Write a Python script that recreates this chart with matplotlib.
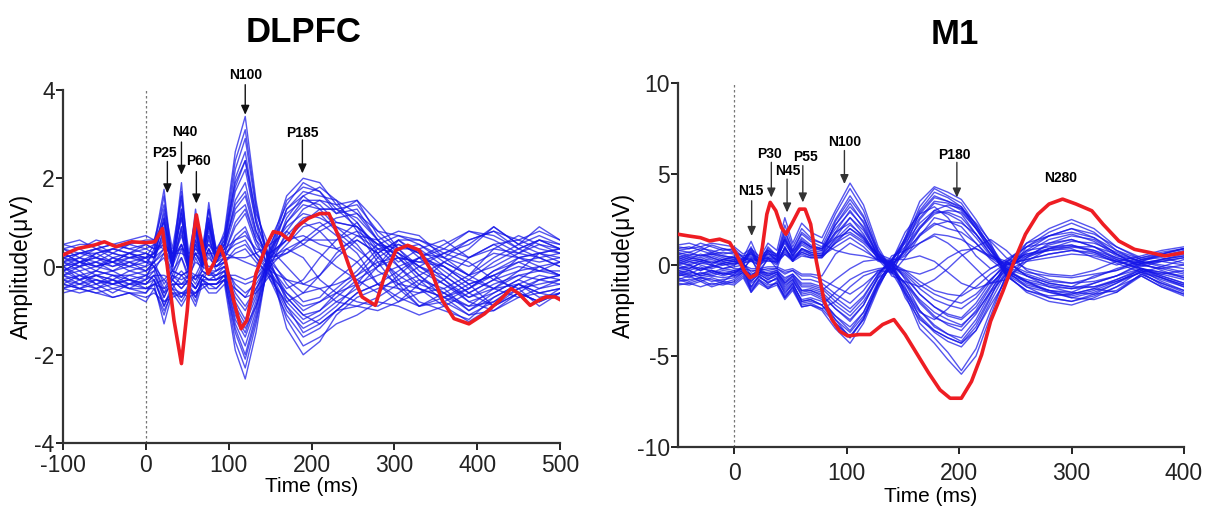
import matplotlib
matplotlib.use("Agg")
import matplotlib.pyplot as plt

plt.rcParams['font.family'] = ['Liberation Sans', 'DejaVu Sans']
plt.rcParams['axes.unicode_minus'] = False

# ---------------- DLPFC data ----------------
dl_time = [-100, -80, -60, -40, -20, 0, 10, 22, 32, 43, 52, 60, 68, 76, 85, 95, 108, 120,
           133, 150, 170, 190, 210, 230, 255, 280, 305, 330, 360, 390, 420, 450, 475, 500]

dl_channels = [
    [0.1, 0.2, 0.0, -0.1, 0.1, 0.2, 0.5, 1.75, 0.1, 1.9, 0.0, 1.3, 0.2, 1.45, 0.3, 0.8, 2.6, 3.4, 1.5, -0.2, -1.0, -1.4, -1.2, -0.9, -0.4, 0.2, 0.5, 0.3, -0.2, -0.6, -0.3, 0.2, 0.3, 0.1],
    [-0.2, 0.0, 0.3, 0.1, -0.1, 0.0, 0.4, 1.6, 0.0, 1.7, -0.1, 1.1, 0.1, 1.3, 0.2, 0.7, 2.4, 3.1, 1.4, -0.1, -0.9, -1.3, -1.1, -0.8, -0.5, 0.0, 0.4, 0.4, 0.0, -0.4, -0.2, 0.1, 0.2, 0.0],
    [0.3, 0.1, 0.2, 0.4, 0.3, 0.1, 0.3, 1.3, 0.2, 1.5, 0.1, 1.0, 0.3, 1.1, 0.3, 0.6, 2.2, 2.9, 1.3, 0.1, -0.7, -1.1, -1.0, -0.6, -0.2, 0.3, 0.6, 0.2, -0.3, -0.7, -0.5, -0.1, 0.3, 0.4],
    [-0.3, -0.4, -0.2, -0.3, -0.5, -0.3, 0.2, 1.1, -0.1, 1.3, -0.2, 0.9, 0.0, 1.0, 0.1, 0.5, 2.0, 2.6, 1.1, 0.0, -0.6, -1.0, -0.8, -0.5, -0.1, 0.4, 0.3, 0.0, -0.4, -0.8, -0.6, -0.3, 0.0, -0.2],
    [0.4, 0.5, 0.5, 0.3, 0.5, 0.6, 0.6, 1.0, 0.3, 1.1, 0.2, 0.8, 0.4, 0.9, 0.4, 0.5, 1.7, 2.2, 1.0, 0.2, -0.4, -0.8, -0.7, -0.3, 0.1, 0.5, 0.7, 0.5, 0.1, -0.2, 0.2, 0.5, 0.7, 0.5],
    [0.0, -0.2, -0.1, 0.2, 0.0, -0.1, 0.1, 0.9, 0.0, 0.9, -0.1, 0.6, 0.2, 0.8, 0.2, 0.4, 1.5, 1.9, 0.8, 0.1, -0.3, -0.6, -0.5, -0.4, -0.2, 0.1, 0.2, 0.1, 0.3, 0.6, 0.8, 0.4, 0.2, 0.3],
    [0.0, -0.3, -0.5, -0.4, -0.3, -0.5, -0.4, -1.3, -0.6, -0.9, -0.6, -0.9, -0.4, -0.6, -0.6, -0.4, -1.9, -2.55, -1.5, 0.4, 1.6, 2.0, 1.9, 1.4, 1.5, 0.7, 0.3, -0.2, -0.6, -1.0, -0.6, -0.3, -0.5, -0.4],
    [-0.4, -0.5, -0.6, -0.7, -0.6, -0.8, -0.5, -1.1, -0.5, -0.8, -0.5, -0.8, -0.3, -0.5, -0.5, -0.3, -1.7, -2.3, -1.3, 0.3, 1.5, 1.8, 1.7, 1.2, 1.3, 0.6, 0.0, -0.5, -0.9, -1.25, -0.9, -0.6, -0.8, -0.6],
    [-0.5, -0.4, -0.3, -0.5, -0.6, -0.6, -0.3, -0.9, -0.4, -0.7, -0.4, -0.7, -0.3, -0.4, -0.4, -0.3, -1.5, -2.1, -1.2, 0.2, 1.3, 1.7, 1.6, 1.5, 1.2, 0.8, 0.4, 0.0, -0.3, -0.8, -1.0, -0.7, -0.6, -0.7],
    [-0.2, -0.1, -0.4, -0.6, -0.4, -0.4, -0.2, -0.7, -0.3, -0.5, -0.3, -0.5, -0.2, -0.3, -0.3, -0.2, -1.3, -1.8, -1.0, 0.5, 1.2, 1.5, 1.4, 1.0, 0.9, 0.2, -0.2, -0.5, -0.7, -1.1, -0.8, -0.5, -0.9, -0.6],
    [0.2, 0.1, -0.1, -0.2, -0.2, -0.1, 0.0, -0.5, -0.2, -0.3, -0.2, -0.4, -0.1, -0.2, -0.2, -0.1, -1.1, -1.5, -0.8, 0.3, 1.0, 1.4, 1.3, 1.3, 1.1, 0.6, 0.2, 0.1, 0.0, -0.4, -0.2, 0.0, -0.1, 0.1],
    [-0.1, 0.1, 0.2, 0.0, 0.1, 0.0, 0.1, -0.4, -0.1, -0.2, -0.1, -0.3, 0.0, -0.1, -0.1, 0.0, -0.8, -1.2, -0.6, 0.4, 0.9, 1.2, 1.1, 0.9, 0.7, 0.4, 0.5, 0.3, 0.2, 0.0, 0.3, 0.2, 0.1, 0.2],
    [0.3, 0.4, 0.2, 0.1, 0.3, 0.4, 0.3, 0.6, 0.1, 0.7, 0.1, 0.5, 0.2, 0.6, 0.2, 0.3, 1.0, 1.3, 0.6, 0.2, 0.3, 0.6, 0.9, 1.1, 1.2, 0.6, 0.2, -0.3, -0.5, -0.2, 0.4, 0.3, 0.6, 0.4],
    [-0.3, -0.2, -0.3, -0.4, -0.2, -0.3, -0.1, 0.3, -0.2, 0.4, -0.1, 0.3, 0.0, 0.4, 0.0, 0.2, 0.7, 0.9, 0.3, 0.0, 0.8, 1.3, 1.5, 1.4, 1.0, 0.3, -0.3, -0.8, -1.0, -1.2, -0.7, -0.4, -0.6, -0.5],
    [0.5, 0.4, 0.6, 0.5, 0.4, 0.5, 0.4, 0.5, 0.3, 0.4, 0.3, 0.4, 0.3, 0.5, 0.3, 0.4, 0.6, 0.7, 0.4, 0.3, 0.6, 1.0, 1.3, 1.3, 1.4, 0.8, 0.7, 0.6, 0.3, 0.5, 0.9, 0.5, 0.9, 0.6],
    [0.1, 0.0, -0.2, -0.1, -0.3, -0.2, 0.0, 0.2, -0.3, 0.2, -0.3, 0.2, -0.1, 0.3, -0.1, 0.1, 0.4, 0.5, 0.2, -0.1, -1.2, -1.8, -1.6, -1.3, -1.1, -0.8, -0.9, -1.1, -0.9, -0.6, -0.3, -0.5, -0.4, -0.3],
    [-0.4, -0.5, -0.4, -0.3, -0.5, -0.6, -0.4, -0.3, -0.5, -0.2, -0.4, -0.2, -0.3, -0.1, -0.3, -0.2, -0.3, -0.4, -0.3, 0.1, 1.1, 1.6, 1.8, 1.5, 0.8, 0.1, -0.5, -0.9, -0.7, -0.4, -0.9, -0.6, -0.3, -0.4],
    [0.2, 0.3, 0.4, 0.5, 0.4, 0.3, 0.2, 0.4, 0.1, 0.5, 0.0, 0.3, 0.1, 0.4, 0.1, 0.2, 0.2, 0.1, 0.0, 0.6, 1.4, 1.9, 1.7, 1.3, 0.9, 0.5, 0.4, 0.5, 0.2, -0.2, 0.0, 0.3, 0.5, 0.4],
    [-0.5, -0.6, -0.5, -0.7, -0.6, -0.7, -0.6, -0.8, -0.7, -0.6, -0.7, -0.6, -0.5, -0.4, -0.5, -0.3, -0.5, -0.7, -0.6, -0.2, -0.9, -1.5, -1.3, -1.0, -0.9, -1.0, -0.8, -0.6, -0.5, -1.0, -0.7, -0.4, -0.7, -0.6],
    [0.0, 0.2, 0.1, 0.0, 0.2, 0.3, 0.2, 0.7, 0.0, 0.8, -0.2, 0.5, 0.0, 0.7, 0.1, 0.3, 0.9, 1.2, 0.5, 0.0, -0.5, -0.3, 0.2, 0.6, 1.0, 0.4, 0.0, 0.2, 0.4, 0.8, 0.6, 0.3, 0.2, 0.0],
    [0.1, -0.1, 0.0, 0.2, 0.1, -0.1, 0.1, 0.3, -0.1, 0.2, -0.2, 0.1, 0.0, 0.2, 0.0, 0.1, 0.3, 0.4, 0.1, -0.2, -0.6, -0.9, -0.8, -0.6, -0.4, -0.2, 0.0, -0.4, -0.6, -0.9, -0.5, -0.2, -0.3, -0.2],
    [-0.2, -0.3, -0.1, -0.2, -0.3, -0.4, -0.2, -0.2, -0.3, -0.1, -0.3, -0.2, -0.2, -0.1, -0.2, 0.0, -0.4, -0.6, -0.4, 0.1, 0.5, 0.9, 1.0, 0.7, 0.3, -0.4, -0.7, -0.9, -0.6, -0.3, -0.5, -0.7, -0.5, -0.3],
    [0.4, 0.3, 0.3, 0.4, 0.5, 0.4, 0.5, 0.4, 0.3, 0.3, 0.2, 0.3, 0.3, 0.3, 0.3, 0.3, 0.2, 0.2, 0.3, 0.5, 0.8, 0.5, 0.3, 0.0, -0.3, -0.6, -0.2, 0.2, 0.5, 0.8, 0.7, 0.4, 0.6, 0.5],
    [-0.6, -0.5, -0.6, -0.5, -0.4, -0.5, -0.5, -1.0, -0.6, -0.7, -0.5, -0.6, -0.4, -0.4, -0.4, -0.2, -1.0, -1.4, -0.9, 0.0, 0.4, 0.2, -0.3, -0.6, -0.8, -0.9, -0.6, -0.3, -0.8, -1.1, -1.0, -0.6, -0.8, -0.5],
    [0.2, 0.3, 0.4, 0.2, 0.3, 0.5, 0.4, 1.2, 0.2, 1.3, 0.0, 0.7, 0.2, 0.9, 0.2, 0.5, 1.3, 1.6, 0.7, 0.2, 0.6, 1.0, 0.8, 0.4, 0.1, -0.4, -0.8, -0.4, 0.1, 0.4, 0.9, 0.5, 0.3, 0.4],
    [-0.1, 0.0, 0.1, 0.3, 0.2, 0.1, 0.0, -0.6, -0.2, -0.4, -0.2, -0.3, -0.1, -0.2, -0.1, 0.0, -0.6, -0.9, -0.5, 0.0, -1.4, -2.0, -1.7, -1.1, -0.7, -0.5, -0.3, 0.0, 0.3, 0.1, -0.3, -0.1, 0.0, -0.2],
    [0.5, 0.6, 0.4, 0.5, 0.6, 0.7, 0.6, 1.4, 0.4, 1.6, 0.3, 1.1, 0.4, 1.3, 0.4, 0.7, 1.9, 2.4, 1.2, 0.4, 0.0, -0.4, -0.2, 0.3, 0.7, 0.6, 0.8, 0.7, 0.2, 0.6, 0.8, 0.6, 0.8, 0.6],
    [-0.4, -0.2, -0.4, -0.2, -0.4, -0.2, -0.3, -0.9, -0.5, -0.6, -0.5, -0.7, -0.3, -0.4, -0.4, -0.2, -1.2, -1.6, -0.9, 0.2, 0.7, 1.1, 1.2, 0.8, 0.4, 0.0, 0.2, -0.2, -0.7, -0.9, -0.8, -0.4, -0.6, -0.5],
    [0.1, 0.3, 0.2, 0.1, 0.0, 0.2, 0.3, 1.0, 0.1, 1.1, 0.0, 0.8, 0.1, 1.0, 0.2, 0.5, 1.4, 1.7, 0.8, 0.1, -0.8, -1.2, -1.0, -0.7, -0.3, 0.0, 0.6, 0.6, 0.4, 0.2, 0.5, 0.6, 0.4, 0.3],
    [-0.3, -0.5, -0.3, -0.4, -0.5, -0.5, -0.4, -0.5, -0.4, -0.4, -0.4, -0.5, -0.3, -0.3, -0.3, -0.2, -0.2, -0.3, -0.2, 0.2, 1.0, 1.5, 1.5, 1.2, 1.5, 1.0, 0.4, -0.1, -0.4, -0.7, -0.4, -0.2, -0.1, -0.2],
    [0.3, 0.1, 0.0, 0.1, 0.2, 0.3, 0.2, 0.8, 0.0, 0.9, -0.1, 0.6, 0.1, 0.7, 0.1, 0.4, 1.2, 1.4, 0.6, -0.1, -0.7, -1.1, -1.3, -1.0, -0.6, -0.4, -0.5, -0.6, -0.3, 0.2, 0.5, 0.2, 0.0, 0.1],
    [-0.1, -0.3, -0.2, -0.3, -0.1, -0.2, -0.1, -0.7, -0.3, -0.5, -0.3, -0.5, -0.2, -0.3, -0.2, -0.1, -0.9, -1.3, -0.7, 0.3, 0.6, 0.7, 0.5, 0.4, 0.6, 0.3, 0.6, 0.3, -0.1, -0.5, -0.1, 0.2, 0.3, 0.2],
    [0.4, 0.2, 0.4, 0.3, 0.2, 0.2, 0.3, 0.5, 0.2, 0.5, 0.1, 0.4, 0.2, 0.5, 0.2, 0.3, 0.5, 0.6, 0.2, -0.3, -0.8, -0.6, -0.2, 0.2, 0.6, 0.3, -0.4, -0.9, -0.8, -0.5, -0.2, -0.6, -0.8, -0.6],
    [-0.5, -0.3, -0.2, -0.4, -0.3, -0.4, -0.3, -0.8, -0.6, -0.6, -0.6, -0.6, -0.4, -0.4, -0.4, -0.3, -1.4, -2.0, -1.1, 0.3, 1.3, 1.6, 1.3, 0.9, 0.5, -0.1, -0.4, -0.2, 0.1, -0.2, -0.5, -0.4, -0.2, -0.3],
    [0.0, 0.1, 0.3, 0.4, 0.3, 0.2, 0.2, 1.1, 0.1, 1.2, 0.0, 0.9, 0.1, 1.1, 0.2, 0.6, 1.8, 2.4, 1.0, -0.3, -1.1, -1.6, -1.4, -1.0, -0.6, -0.4, -0.1, 0.2, 0.0, -0.3, 0.1, 0.4, 0.6, 0.4],
    [-0.2, -0.4, -0.5, -0.3, -0.4, -0.3, -0.2, -0.6, -0.4, -0.4, -0.3, -0.5, -0.2, -0.3, -0.3, -0.1, -0.7, -1.0, -0.5, 0.1, 0.3, 0.5, 0.8, 1.0, 0.9, 0.5, 0.3, 0.0, -0.2, -0.6, -0.9, -0.5, -0.3, -0.2],
    [0.2, 0.0, 0.1, -0.1, 0.0, 0.1, 0.1, 0.4, 0.0, 0.5, -0.1, 0.3, 0.0, 0.4, 0.0, 0.2, 0.6, 0.8, 0.3, -0.1, -0.3, -0.4, -0.5, -0.8, -0.9, -0.7, -0.4, -0.5, -0.7, -0.5, -0.1, 0.1, -0.1, -0.1],
    [-0.1, 0.1, 0.0, 0.1, 0.3, 0.2, 0.0, -0.3, -0.1, -0.2, -0.1, -0.2, 0.1, 0.0, 0.0, 0.1, -0.5, -0.7, -0.3, 0.2, 0.4, 0.6, 0.6, 0.6, 0.8, 0.5, 0.1, 0.4, 0.6, 0.2, 0.4, 0.7, 0.5, 0.3],
]

dl_red_time = [-100, -82, -63, -50, -36, -17, 0, 11, 20, 25, 34, 43, 50, 56, 61, 66, 75, 82, 90, 96,
               106, 115, 122, 133, 145, 154, 163, 173, 182, 196, 210, 221, 233, 247, 261, 277, 288,
               302, 316, 330, 344, 358, 372, 390, 409, 427, 441, 450, 464, 474, 483, 494, 500]
dl_red = [0.26, 0.41, 0.48, 0.56, 0.45, 0.56, 0.54, 0.56, 0.86, 0.14, -1.22, -2.2, -1.0, 0.45, 1.17,
          0.67, -0.16, 0.07, 0.45, 0.14, -0.77, -1.41, -1.22, -0.16, 0.45, 0.79, 0.75, 0.6, 0.9, 1.09,
          1.2, 1.2, 0.67, -0.08, -0.69, -0.88, -0.23, 0.37, 0.48, 0.37, -0.08, -0.77, -1.18, -1.3,
          -1.07, -0.77, -0.5, -0.61, -0.88, -0.77, -0.69, -0.69, -0.75]

dl_labels = ["P25", "N40", "P60", "N100", "P185"]
dl_label_xy = [(22, 2.58), (47, 3.04), (63, 2.38), (120, 4.35), (189, 3.02)]
dl_arrow_x = [26, 43, 61, 120, 189]
dl_arrow_from = [2.38, 2.82, 2.15, 4.12, 2.87]
dl_arrow_to = [1.66, 2.08, 1.43, 3.44, 2.11]

# ---------------- M1 data ----------------
m1_time = [-50, -40, -30, -20, -10, 0, 8, 15, 22, 30, 38, 45, 52, 60, 68, 78, 90, 103, 115,
           128, 140, 152, 165, 178, 190, 202, 215, 228, 242, 260, 280, 300, 320, 340, 362, 380, 400]

m1_channels = [
    [-0.3, -0.2, 0.1, 0.0, -0.2, 0.0, 0.4, 1.3, 0.3, 1.2, 0.8, 2.6, 1.2, 2.3, 1.8, 1.5, 3.0, 4.5, 3.3, 1.0, -0.3, 1.5, 3.5, 4.3, 4.0, 3.6, 2.5, 1.2, -0.5, -1.5, -2.0, -2.2, -1.8, -1.2, -0.3, -0.9, -1.4],
    [0.5, 0.3, 0.6, 0.4, 0.2, 0.3, 0.2, 1.0, 0.0, 1.0, 0.5, 2.2, 1.0, 2.0, 1.5, 1.2, 2.8, 4.2, 3.0, 0.8, -0.2, 1.3, 3.2, 4.2, 3.8, 3.4, 2.2, 1.0, -0.3, -1.2, -1.8, -2.0, -1.6, -1.0, -0.2, -0.6, -1.0],
    [-0.8, -0.6, -0.9, -0.7, -0.9, -0.5, 0.0, 0.8, -0.2, 0.8, 0.4, 1.8, 0.8, 1.7, 1.3, 1.0, 2.5, 3.8, 2.7, 0.6, -0.4, 1.0, 2.9, 3.8, 3.5, 3.2, 2.0, 0.8, -0.6, -1.4, -1.7, -1.6, -1.3, -1.5, -0.5, -1.0, -1.5],
    [0.2, 0.0, -0.2, -0.1, 0.1, 0.2, 0.3, 0.7, 0.2, 0.7, 0.2, 1.5, 0.6, 1.4, 1.0, 0.8, 2.2, 3.4, 2.3, 0.4, -0.1, 0.8, 2.5, 3.4, 3.2, 2.8, 1.7, 0.6, -0.2, -1.0, -1.4, -1.5, -1.0, -0.6, 0.1, -0.3, -0.7],
    [0.9, 1.0, 0.8, 1.1, 0.9, 0.7, 0.5, 0.6, 0.4, 0.6, 0.5, 1.2, 0.5, 1.1, 0.8, 0.7, 1.8, 3.0, 2.0, 0.5, 0.2, 0.7, 2.0, 3.0, 2.8, 2.4, 1.5, 0.5, 0.2, -0.6, -1.0, -1.2, -0.6, -0.3, 0.3, 0.4, 0.1],
    [-0.5, -0.7, -0.4, -0.6, -0.4, -0.6, -0.3, 0.4, -0.5, 0.4, -0.2, 1.0, 0.2, 0.9, 0.6, 0.5, 1.5, 2.6, 1.7, 0.3, -0.5, 0.4, 1.6, 2.6, 2.4, 2.1, 1.2, 0.3, -0.4, -0.8, -1.1, -1.3, -1.2, -0.9, -0.4, -1.1, -1.6],
    [0.8, 0.9, 1.0, 0.7, 0.9, 0.8, 0.0, -1.5, -0.8, -1.3, -0.9, -1.8, -1.2, -2.3, -2.2, -2.5, -3.5, -4.3, -3.2, -1.3, 0.2, -1.6, -3.5, -4.3, -5.2, -6.0, -5.0, -2.8, -0.5, 1.2, 2.0, 2.5, 2.0, 1.0, 0.3, 0.5, 0.8],
    [0.4, 0.6, 0.5, 0.7, 0.5, 0.4, 0.0, -1.2, -0.6, -1.0, -0.7, -1.4, -1.0, -2.0, -1.9, -2.2, -3.2, -4.0, -2.9, -1.1, 0.0, -1.4, -3.2, -4.0, -4.8, -5.8, -4.6, -2.5, -0.6, 1.0, 1.8, 2.3, 1.8, 0.8, 0.1, 0.3, 0.6],
    [-0.2, 0.0, -0.3, -0.1, 0.1, -0.2, -0.2, -0.9, -0.5, -0.8, -0.5, -1.2, -0.8, -1.7, -1.6, -1.9, -2.8, -3.6, -2.6, -0.9, 0.1, -1.2, -2.9, -3.7, -4.2, -4.5, -3.6, -2.0, -0.4, 0.8, 1.6, 2.0, 1.5, 0.6, -0.1, 0.2, 0.4],
    [0.6, 0.4, 0.3, 0.5, 0.3, 0.2, -0.1, -0.7, -0.3, -0.6, -0.4, -0.9, -0.6, -1.4, -1.4, -1.6, -2.4, -3.1, -2.2, -0.7, -0.2, -1.0, -2.5, -3.3, -3.8, -4.2, -3.2, -1.7, -0.3, 0.7, 1.4, 1.7, 1.3, 0.5, 0.2, 0.6, 0.9],
    [-0.6, -0.4, -0.5, -0.3, -0.5, -0.4, -0.3, -0.5, -0.4, -0.4, -0.3, -0.7, -0.5, -1.1, -1.1, -1.3, -2.0, -2.6, -1.8, -0.5, 0.3, -0.8, -2.0, -2.8, -3.3, -3.6, -2.7, -1.4, -0.2, 0.5, 1.1, 1.4, 1.0, 0.3, -0.3, -0.5, -0.3],
    [0.0, -0.2, 0.1, 0.2, 0.0, 0.1, 0.1, -0.4, -0.2, -0.3, -0.2, -0.5, -0.3, -0.8, -0.8, -1.0, -1.6, -2.1, -1.4, -0.3, 0.0, -0.6, -1.6, -2.3, -2.8, -3.0, -2.3, -1.1, -0.1, 0.4, 0.9, 1.1, 0.8, 0.2, 0.0, -0.2, 0.0],
    [0.3, 0.1, 0.2, 0.4, 0.2, 0.0, 0.2, 0.6, 0.1, 0.6, 0.3, 1.4, 0.5, 1.3, 1.0, 0.9, 2.2, 3.2, 2.4, 0.7, -0.3, -1.3, -2.5, -3.4, -3.8, -4.0, -3.0, -1.5, 0.2, 1.0, 1.2, 1.4, 1.0, 0.4, 0.0, 0.3, 0.5],
    [-0.4, -0.3, -0.6, -0.5, -0.3, -0.4, -0.2, 0.3, -0.3, 0.3, 0.0, 1.0, 0.2, 0.9, 0.7, 0.6, 1.7, 2.6, 1.9, 0.5, -0.2, -1.0, -2.1, -2.9, -3.2, -3.4, -2.5, -1.2, 0.0, 0.8, 1.0, 1.1, 0.7, 0.1, -0.4, -0.7, -1.1],
    [1.0, 0.9, 1.2, 1.0, 0.8, 0.9, 0.4, 0.2, 0.3, 0.2, 0.2, 0.6, 0.3, 0.6, 0.4, 0.4, 1.2, 2.0, 1.4, 0.4, 0.0, -0.7, -1.6, -2.3, -2.7, -2.9, -2.1, -0.9, 0.2, 0.6, 0.8, 0.9, 0.4, 0.0, 0.4, 0.7, 0.9],
    [-0.7, -0.9, -0.7, -0.8, -1.0, -0.8, -0.4, -1.0, -0.7, -0.9, -0.8, -1.5, -1.1, -1.9, -1.8, -2.0, -2.8, -3.4, -2.6, -1.0, 0.2, 1.3, 2.6, 3.5, 3.4, 3.0, 2.0, 0.8, -0.5, -1.2, -1.5, -1.7, -1.4, -0.9, -0.4, -0.8, -1.2],
    [0.1, 0.3, 0.2, 0.0, 0.3, 0.5, 0.1, -0.6, -0.2, -0.5, -0.4, -1.0, -0.7, -1.4, -1.3, -1.5, -2.2, -2.8, -2.0, -0.7, 0.3, 1.0, 2.1, 2.9, 2.9, 2.6, 1.7, 0.6, -0.3, -0.9, -1.2, -1.3, -1.0, -0.6, 0.0, -0.2, -0.5],
    [-1.1, -1.0, -1.2, -1.0, -1.1, -0.9, -0.5, -1.3, -0.8, -1.1, -1.0, -1.8, -1.3, -2.2, -2.1, -2.4, -3.2, -3.9, -3.0, -1.2, 0.1, 1.5, 3.0, 4.0, 3.7, 3.2, 2.2, 1.0, -0.6, -1.4, -1.8, -2.0, -1.7, -1.2, -0.6, -1.2, -1.7],
    [0.2, 0.4, 0.3, 0.1, 0.3, 0.2, 0.2, 0.5, 0.1, 0.5, 0.3, 0.9, 0.4, 0.8, 0.6, 0.5, 1.2, 1.7, 1.2, 0.4, 0.1, 0.5, 1.2, 1.7, 1.6, 1.4, 0.9, 0.4, 0.1, -0.4, -0.6, -0.7, -0.5, -0.3, 0.1, 0.2, 0.0],
    [-0.3, -0.5, -0.2, -0.3, -0.5, -0.3, -0.2, -0.3, -0.3, -0.2, -0.2, -0.4, -0.3, -0.6, -0.6, -0.8, -1.2, -1.6, -1.1, -0.4, 0.1, -0.4, -1.1, -1.6, -1.9, -2.1, -1.6, -0.8, 0.0, 0.3, 0.6, 0.8, 0.6, 0.2, -0.2, -0.4, -0.6],
    [0.6, 0.7, 0.5, 0.6, 0.7, 0.6, 0.3, 0.8, 0.2, 0.9, 0.5, 1.9, 0.8, 1.8, 1.4, 1.2, 0.8, 0.6, 0.5, 0.3, 0.2, 1.8, 2.8, 3.2, 2.6, 1.6, 0.5, -0.2, 0.3, 1.0, 1.6, 2.0, 1.7, 1.0, 0.4, 0.6, 0.9],
    [-0.9, -0.8, -0.7, -0.9, -0.8, -0.7, -0.4, -1.2, -0.6, -1.0, -0.7, -1.6, -1.0, -2.0, -1.9, -2.2, -1.5, -0.8, -0.4, -0.2, -0.1, -1.5, -2.6, -3.0, -2.4, -1.6, -0.8, -0.2, 0.2, -0.6, -1.2, -1.5, -1.6, -1.4, -0.5, -1.0, -1.4],
    [0.0, 0.2, 0.0, -0.2, 0.0, 0.1, 0.1, 0.3, 0.0, 0.4, 0.1, 0.8, 0.3, 0.7, 0.5, 0.5, 1.0, 1.5, 1.0, 0.2, 0.1, 0.6, 1.7, 2.3, 2.0, 1.8, 1.2, 0.4, -0.2, -0.6, -1.0, -1.2, -1.2, -0.8, -0.2, -0.5, -0.8],
    [-0.2, -0.1, -0.3, 0.0, -0.2, -0.1, 0.0, -0.2, -0.2, -0.1, -0.1, -0.3, -0.2, -0.5, -0.5, -0.6, 0.6, 1.2, 0.8, 0.3, 0.0, -0.5, -1.3, -1.9, -2.2, -2.4, -1.8, -0.8, 0.0, 0.6, 0.9, 1.0, 0.8, 0.4, 0.1, 0.3, 0.5],
    [0.7, 0.5, 0.8, 0.6, 0.5, 0.4, 0.3, 0.9, 0.3, 0.8, 0.4, 1.6, 0.7, 1.5, 1.1, 0.9, 2.0, 2.9, 2.1, 0.6, -0.6, -0.9, -1.2, -0.8, -0.2, 0.5, 1.0, 1.4, 0.8, -0.3, -0.8, -1.0, -0.7, -0.2, 0.2, 0.5, 0.7],
    [-0.5, -0.3, -0.6, -0.4, -0.6, -0.4, -0.2, -0.8, -0.4, -0.7, -0.5, -1.1, -0.8, -1.5, -1.4, -1.7, -2.4, -3.0, -2.2, -0.6, 0.5, 0.8, 1.2, 1.6, 1.2, 0.6, -0.2, -1.0, -0.8, 0.2, 0.9, 1.3, 1.2, 0.7, 0.2, -0.1, -0.4],
    [0.3, 0.5, 0.4, 0.6, 0.4, 0.3, 0.2, 0.4, 0.2, 0.4, 0.2, 0.9, 0.4, 0.9, 0.7, 0.6, 1.4, 2.2, 1.6, 0.5, -0.4, 0.9, 2.0, 2.8, 3.0, 2.9, 2.0, 1.1, -0.2, -0.9, -1.5, -1.8, -1.5, -1.0, -0.4, -0.1, 0.3],
    [-0.8, -1.0, -0.8, -1.1, -0.9, -1.0, -0.6, -1.4, -0.9, -1.2, -1.0, -1.7, -1.2, -2.1, -2.0, -2.2, -3.0, -3.7, -2.8, -1.1, 0.0, -1.8, -3.0, -3.6, -4.0, -4.3, -3.6, -2.2, -0.8, 0.4, 1.2, 1.6, 1.4, 0.6, -0.2, -0.6, -1.0],
    [0.4, 0.2, 0.3, 0.1, 0.3, 0.4, 0.2, 0.7, 0.1, 0.7, 0.3, 1.3, 0.5, 1.2, 0.9, 0.8, 1.8, 2.3, 1.5, 0.3, -0.2, -0.3, -0.5, -0.2, 0.4, 0.8, 0.9, 0.5, 0.0, 0.3, 0.6, 0.8, 0.7, 0.3, 0.1, 0.2, 0.4],
    [-0.1, -0.3, -0.1, -0.4, -0.2, -0.3, -0.2, -0.6, -0.3, -0.5, -0.3, -0.8, -0.5, -1.0, -1.0, -1.2, -1.8, -2.4, -1.7, -0.5, 0.3, 0.3, 0.5, 0.2, -0.4, -1.0, -1.3, -1.0, -0.3, 0.2, 0.4, 0.6, 0.5, 0.2, -0.2, -0.7, -1.2],
    [1.1, 1.2, 1.0, 1.2, 1.1, 1.0, 0.6, 0.9, 0.5, 0.8, 0.6, 1.4, 0.7, 1.3, 1.0, 0.9, 1.5, 1.8, 1.3, 0.6, 0.3, 1.2, 2.3, 3.0, 3.3, 3.1, 2.3, 1.3, 0.4, -0.2, -0.5, -0.6, -0.3, 0.2, 0.5, 0.8, 1.0],
    [-1.0, -1.1, -0.9, -1.2, -1.0, -1.1, -0.7, -1.5, -1.0, -1.3, -1.1, -1.9, -1.4, -2.3, -2.2, -2.4, -2.0, -1.2, -0.6, -0.3, -0.4, -1.0, -1.9, -2.6, -3.0, -3.3, -2.6, -1.5, -0.5, -0.9, -1.4, -1.8, -1.9, -1.5, -0.6, -1.2, -1.6],
    [0.1, 0.0, 0.2, 0.3, 0.1, 0.2, 0.1, 0.2, 0.0, 0.3, 0.1, 0.6, 0.2, 0.5, 0.4, 0.4, 1.3, 2.0, 1.5, 0.5, 0.1, -0.3, -0.9, -1.4, -1.6, -1.7, -1.2, -0.5, 0.1, 0.5, 0.8, 1.0, 1.0, 0.6, 0.2, 0.0, -0.2],
    [-0.4, -0.6, -0.5, -0.3, -0.5, -0.5, -0.3, -0.7, -0.4, -0.6, -0.4, -1.0, -0.6, -1.2, -1.2, -1.4, -0.8, -0.2, 0.2, 0.3, 0.0, 0.8, 1.6, 2.2, 2.4, 2.3, 1.7, 0.8, -0.1, -0.5, -0.9, -1.0, -0.9, -0.6, -0.2, -0.4, -0.7],
    [0.8, 0.7, 0.9, 0.8, 0.6, 0.7, 0.4, 0.3, 0.3, 0.4, 0.3, 0.7, 0.3, 0.7, 0.5, 0.5, 2.4, 3.6, 2.6, 0.8, -0.4, -1.6, -2.8, -3.6, -4.0, -4.3, -3.4, -1.8, 0.1, 1.2, 1.6, 1.8, 1.5, 0.8, 0.3, 0.6, 0.9],
    [-0.6, -0.5, -0.7, -0.6, -0.7, -0.6, -0.4, -0.9, -0.5, -0.8, -0.6, -1.3, -0.9, -1.6, -1.5, -1.8, -3.0, -4.0, -3.0, -1.0, 0.3, 1.4, 2.8, 3.7, 3.5, 3.1, 2.1, 0.9, -0.4, -1.1, -1.4, -1.6, -1.3, -0.8, -0.3, -0.7, -1.1],
]

m1_red_time = [-50, -41, -30, -22, -13, -4, 2, 9, 14, 20, 25, 29, 32, 37, 42, 46, 51, 58, 63, 68,
               73, 80, 87, 94, 101, 111, 121, 132, 142, 152, 163, 173, 183, 192, 202, 211, 220,
               228, 239, 249, 259, 270, 280, 292, 304, 318, 328, 342, 356, 370, 383, 400]
m1_red = [1.69, 1.6, 1.5, 1.32, 1.42, 1.23, 0.59, -0.33, -0.7, -0.51, 0.96, 2.79, 3.44, 2.98, 2.06,
          1.69, 2.24, 3.07, 3.07, 2.24, 0.22, -1.99, -3.0, -3.64, -3.9, -3.82, -3.82, -3.27, -3.0,
          -3.82, -4.93, -5.94, -6.86, -7.32, -7.32, -6.4, -4.93, -3.09, -1.43, 0.22, 1.69, 2.79,
          3.35, 3.62, 3.35, 2.98, 2.24, 1.32, 0.86, 0.68, 0.5, 0.68]

m1_labels = ["N15", "P30", "N45", "P55", "N100", "P180"]
m1_label_xy = [(15, 4.08), (31, 6.1), (48, 5.18), (63, 5.92), (98, 6.78), (196, 6.07)]
m1_arrow_x = [15.5, 33, 47, 61, 98, 198]
m1_arrow_from = [3.53, 5.64, 4.72, 5.46, 6.29, 5.64]
m1_arrow_to = [1.6, 3.71, 2.89, 3.44, 4.45, 3.71]
m1_extra_label = ("N280", (290, 4.78))

BLUE = "#1414e8"
RED = "#ee1d23"

fig = plt.figure(figsize=(12.06, 5.09), dpi=100)
ax1 = fig.add_axes([63 / 1206, 1 - 443 / 509, (560 - 63) / 1206, (443 - 90) / 509])
ax2 = fig.add_axes([678 / 1206, 1 - 447 / 509, (1184 - 678) / 1206, (447 - 83) / 509])


def style(ax, xlim, ylim, xticks, yticks, xpad, xlabelpad):
    ax.set_xlim(*xlim)
    ax.set_ylim(*ylim)
    ax.set_xticks(xticks)
    ax.set_yticks(yticks)
    for s in ("top", "right"):
        ax.spines[s].set_visible(False)
    for s in ("left", "bottom"):
        ax.spines[s].set_linewidth(1.6)
        ax.spines[s].set_color("#333333")
    ax.tick_params(direction="out", length=5, width=1.4, colors="#222222", labelsize=16.5)
    ax.tick_params(axis="y", pad=1)
    ax.tick_params(axis="x", pad=xpad)
    ax.set_xlabel("Time (ms)", fontsize=15, labelpad=xlabelpad)
    ax.set_ylabel("Amplitude(\u03bcV)", fontsize=16.5, labelpad=1)
    ax.axvline(0, color="#777777", lw=0.9, ls=(0, (2, 2)), zorder=1)


style(ax1, (-100, 500), (-4, 4), [-100, 0, 100, 200, 300, 400, 500], [-4, -2, 0, 2, 4], 3, 0)
style(ax2, (-50, 400), (-10, 10), [0, 100, 200, 300, 400], [-10, -5, 0, 5, 10], 6, 1)

for ch in dl_channels:
    ax1.plot(dl_time, ch, color=BLUE, lw=1.0, alpha=0.72, zorder=2)
ax1.plot(dl_red_time, dl_red, color=RED, lw=2.6, zorder=3, solid_joinstyle="round")

for ch in m1_channels:
    ax2.plot(m1_time, ch, color=BLUE, lw=1.0, alpha=0.72, zorder=2)
ax2.plot(m1_red_time, m1_red, color=RED, lw=2.6, zorder=3, solid_joinstyle="round")


def annotate(ax, labels, label_xy, arrow_x, arrow_from, arrow_to, color):
    for lab, (lx, ly), axx, a0, a1 in zip(labels, label_xy, arrow_x, arrow_from, arrow_to):
        ax.text(lx, ly, lab, ha="center", va="center", fontsize=10, fontweight="bold", zorder=5)
        ax.annotate("", xy=(axx, a1), xytext=(axx, a0),
                    arrowprops=dict(arrowstyle="-|>,head_length=0.55,head_width=0.25",
                                    color=color, lw=1.0, shrinkA=0, shrinkB=0), zorder=5)


annotate(ax1, dl_labels, dl_label_xy, dl_arrow_x, dl_arrow_from, dl_arrow_to, "#111111")
annotate(ax2, m1_labels, m1_label_xy, m1_arrow_x, m1_arrow_from, m1_arrow_to, "#333333")
ax2.text(m1_extra_label[1][0], m1_extra_label[1][1], m1_extra_label[0], ha="center", va="center",
         fontsize=10, fontweight="bold")

fig.text(304 / 1206, 1 - 32 / 509, "DLPFC", ha="center", va="center", fontsize=25, fontweight="bold")
fig.text(955 / 1206, 1 - 34 / 509, "M1", ha="center", va="center", fontsize=25, fontweight="bold")

fig.savefig("out.png", dpi=100)
